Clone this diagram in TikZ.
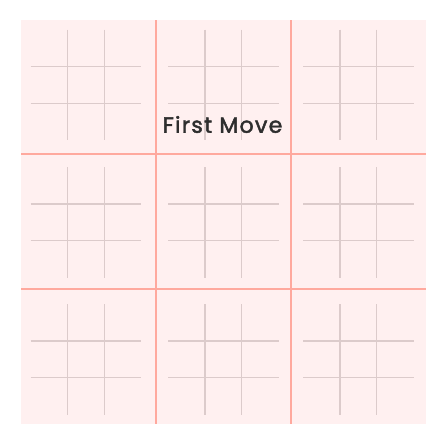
\documentclass[tikz,border=0pt]{standalone}
\usepackage{fontspec}
\setmainfont{Poppins}
\newfontfamily\titlefont{Poppins}[FakeBold=2,LetterSpace=6]
\definecolor{boardbg}{HTML}{FFF0F0}
\definecolor{bigline}{HTML}{FFA99E}
\definecolor{smallline}{HTML}{DCCBCB}
\definecolor{textc}{HTML}{2E2E2E}
\begin{document}
\begin{tikzpicture}[x=1pt,y=-1pt,
  bigl/.style={draw=bigline,line width=1.7pt},
  smalll/.style={draw=smallline,line width=1.4pt}]
\useasboundingbox (0,0) rectangle (440,440);
\fill[boardbg] (21,20) rectangle (425.5,424);
\foreach \gx in {30.5,168,303}{
  \foreach \gy in {29.5,167,304}{
    \draw[smalll] (\gx+36.8,\gy) -- (\gx+36.8,\gy+110.5);
    \draw[smalll] (\gx+73.7,\gy) -- (\gx+73.7,\gy+110.5);
    \draw[smalll] (\gx,\gy+36.8) -- (\gx+110.5,\gy+36.8);
    \draw[smalll] (\gx,\gy+73.7) -- (\gx+110.5,\gy+73.7);
  }
}
\draw[bigl] (156,20) -- (156,424);
\draw[bigl] (290.7,20) -- (290.7,424);
\draw[bigl] (21,154) -- (425.5,154);
\draw[bigl] (21,289) -- (425.5,289);
\node[text=textc,font=\titlefont\fontsize{22}{26}\selectfont,inner sep=0pt] (title) at (222.5,124.5) {First Move};
\end{tikzpicture}
\end{document}
